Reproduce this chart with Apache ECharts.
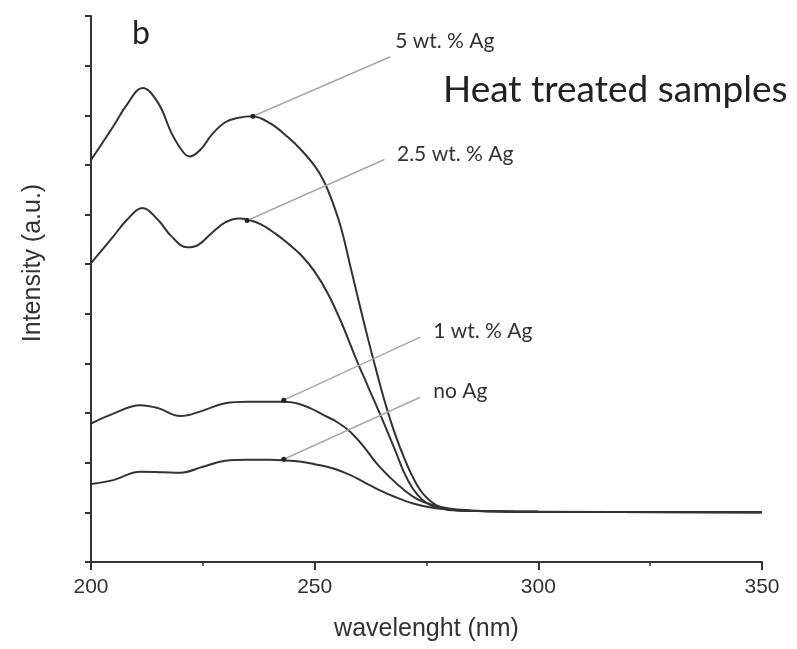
<!DOCTYPE html>
<html>
<head>
<meta charset="utf-8">
<script src="https://cdn.jsdelivr.net/npm/echarts@6/dist/echarts.min.js"></script>
<style>
  html, body { margin: 0; padding: 0; background: #fff; }
  #main { width: 797px; height: 649px; }
</style>
</head>
<body>
<div id="main"></div>
<script>
// wavelength (nm) / intensity (a.u.)
var wl5 = [200, 205, 208, 211.5, 215, 218, 220.5, 222, 224.5, 227, 230, 233, 236, 240, 244, 247, 250, 252, 254, 256, 258, 260, 262, 264, 266, 268, 270, 272, 274, 276, 278, 280, 285, 290, 300, 350];
var ag5 = [8.10, 8.78, 9.21, 9.55, 9.25, 8.64, 8.27, 8.17, 8.31, 8.61, 8.86, 8.95, 8.98, 8.84, 8.56, 8.30, 7.98, 7.68, 7.25, 6.70, 5.95, 5.20, 4.47, 3.78, 3.13, 2.57, 2.10, 1.70, 1.40, 1.22, 1.11, 1.06, 1.03, 1.02, 1.01, 1.0];

var wl25 = [200, 205, 208, 211.5, 215, 218, 221.5, 224, 227, 230, 233, 235, 238, 241, 244, 247, 250, 253, 256, 259, 262, 265, 268, 270, 272, 274, 276, 278, 280, 285, 290, 300, 350];
var ag25 = [6.02, 6.56, 6.89, 7.13, 6.89, 6.56, 6.34, 6.39, 6.63, 6.84, 6.92, 6.90, 6.80, 6.63, 6.42, 6.18, 5.85, 5.40, 4.82, 4.15, 3.52, 2.90, 2.25, 1.80, 1.47, 1.26, 1.14, 1.08, 1.05, 1.03, 1.02, 1.01, 1.0];

var wl1 = [200, 205, 211, 215, 220, 225, 230, 235, 240, 243, 246, 249, 252, 255, 258, 261, 264, 267, 270, 273, 276, 280, 285, 290, 300, 350];
var ag1 = [2.79, 2.99, 3.16, 3.10, 2.94, 3.05, 3.20, 3.23, 3.23, 3.23, 3.20, 3.10, 2.96, 2.82, 2.62, 2.32, 1.97, 1.69, 1.45, 1.26, 1.16, 1.08, 1.04, 1.02, 1.01, 1.0];

var wl0 = [200, 205, 211, 216, 220, 225, 230, 235, 240, 243, 247, 250, 254, 258, 261, 264, 268, 272, 276, 280, 285, 290, 300, 350];
var ag0 = [1.57, 1.65, 1.82, 1.81, 1.80, 1.92, 2.04, 2.06, 2.06, 2.05, 2.02, 1.97, 1.89, 1.75, 1.61, 1.47, 1.31, 1.18, 1.10, 1.06, 1.03, 1.02, 1.01, 1.0];

var xTicks = [200, 250, 300, 350];

// annotations: text, anchor on the curve, end of the leader line, text position
var noteText = ['5 wt. % Ag', '2.5 wt. % Ag', '1 wt. % Ag', 'no Ag'];
var noteFrom = [[236.2, 8.98], [234.9, 6.88], [243.1, 3.26], [243.1, 2.07]];
var noteTo = [[266.9, 10.18], [265.6, 8.11], [273.6, 4.53], [273.6, 3.32]];
var noteAt = [[268.0, 10.50], [268.4, 8.22], [276.5, 4.65], [276.5, 3.44]];

function pairs(xs, ys) {
  var out = [];
  for (var i = 0; i < xs.length; i++) out.push([xs[i], ys[i]]);
  return out;
}

var curveColor = '#333';
var series = [];
[[wl5, ag5], [wl25, ag25], [wl1, ag1], [wl0, ag0]].forEach(function (c) {
  series.push({
    type: 'line',
    data: pairs(c[0], c[1]),
    smooth: 0.4,
    showSymbol: false,
    lineStyle: { color: curveColor, width: 2 },
    z: 3
  });
});

for (var i = 0; i < noteText.length; i++) {
  series.push({
    type: 'line',
    silent: true,
    data: [
      { value: noteFrom[i], symbol: 'circle', symbolSize: 5, itemStyle: { color: '#222' } },
      { value: noteTo[i], symbol: 'none' }
    ],
    showSymbol: true,
    lineStyle: { color: '#a8a8a8', width: 1.5 },
    z: 4
  });
}

var chart = echarts.init(document.getElementById('main'));
chart.setOption({
  animation: false,
  backgroundColor: '#fff',
  grid: { left: 91, right: 35, top: 16, bottom: 87 },
  xAxis: {
    type: 'value',
    min: 200, max: 350, interval: 50,
    name: 'wavelenght (nm)',
    nameLocation: 'middle',
    nameGap: 55,
    nameTextStyle: { fontFamily: 'Liberation Sans', fontSize: 25, color: '#333' },
    axisLine: { show: true, lineStyle: { color: '#333', width: 2 } },
    axisTick: { show: true, inside: false, length: 8, lineStyle: { color: '#333', width: 2 } },
    minorTick: { show: true, splitNumber: 2, length: 4, lineStyle: { color: '#333', width: 1.5 } },
    axisLabel: {
      margin: 15, fontFamily: 'Liberation Sans', fontSize: 21, color: '#333',
      formatter: function (v) { return xTicks.indexOf(v) >= 0 ? String(v) : ''; }
    },
    splitLine: { show: false }
  },
  yAxis: {
    type: 'value',
    min: 0, max: 11, interval: 1,
    axisLine: { show: true, lineStyle: { color: '#333', width: 2 } },
    axisTick: { show: true, inside: false, length: 6, lineStyle: { color: '#333', width: 2 } },
    axisLabel: { show: false },
    splitLine: { show: false }
  },
  series: series
});

// texts placed after the grid exists, note labels follow data coordinates
var texts = [
  {
    type: 'text', x: 33, y: 263, rotation: Math.PI / 2,
    style: { text: 'Intensity (a.u.)', fontFamily: 'Liberation Sans', fontSize: 25, fill: '#333', textAlign: 'center', textVerticalAlign: 'middle' }
  },
  {
    type: 'text', x: 132, y: 34,
    style: { text: 'b', fontFamily: 'Lato', fontSize: 32, fill: '#222', textAlign: 'left', textVerticalAlign: 'middle' }
  },
  {
    type: 'text', x: 443, y: 90,
    style: { text: 'Heat treated samples', fontFamily: 'Lato', fontSize: 37, fill: '#222', textAlign: 'left', textVerticalAlign: 'middle' }
  }
];
noteText.forEach(function (t, i) {
  var p = chart.convertToPixel({ gridIndex: 0 }, noteAt[i]);
  texts.push({
    type: 'text', x: p[0], y: p[1],
    style: { text: t, fontFamily: 'Lato', fontSize: 21, fill: '#333', textAlign: 'left', textVerticalAlign: 'middle' }
  });
});
chart.setOption({ graphic: texts });
</script>
</body>
</html>
